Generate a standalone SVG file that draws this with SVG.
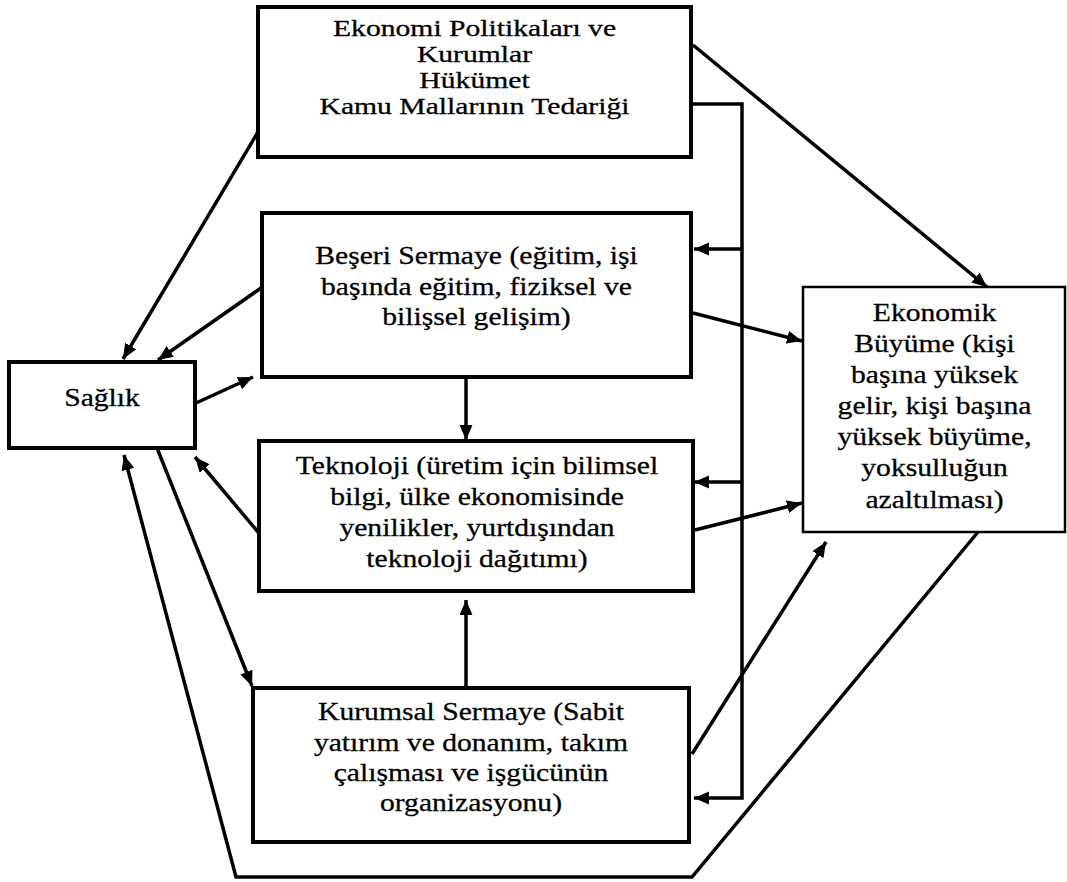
<svg xmlns="http://www.w3.org/2000/svg" width="1067" height="882" viewBox="0 0 1067 882">
<style>
.box{fill:#fff;stroke:#000;stroke-width:4}
.thin{stroke-width:2.5}
.t{font-family:"Liberation Serif","Times New Roman",serif;font-size:26px;fill:#000;stroke:#000;stroke-width:0.3;text-anchor:middle}
.s{font-size:24px}
.c{fill:none;stroke:#000;stroke-width:3.5}
</style>
<defs>
<marker id="ah" markerUnits="userSpaceOnUse" markerWidth="16" markerHeight="14" refX="15" refY="6.5" orient="auto">
<path d="M0,0 L15,6.5 L0,13 z" fill="#000"/>
</marker>
</defs>
<rect width="1067" height="882" fill="#fff"/>
<g id="connectors">
<line class="c" x1="258" y1="132" x2="123" y2="359" marker-end="url(#ah)"/>
<line class="c" x1="261" y1="288" x2="158" y2="360" marker-end="url(#ah)"/>
<line class="c" x1="196" y1="403" x2="253" y2="377" marker-end="url(#ah)"/>
<line class="c" x1="258" y1="532" x2="195" y2="457" marker-end="url(#ah)"/>
<line class="c" x1="157" y1="448" x2="252" y2="686" marker-end="url(#ah)"/>
<polyline class="c" points="978,532 692,877 236,877 124,455" marker-end="url(#ah)"/>
<line class="c" x1="693" y1="45" x2="987" y2="287" marker-end="url(#ah)"/>
<line class="c" x1="693" y1="313" x2="802" y2="341" marker-end="url(#ah)"/>
<line class="c" x1="695" y1="530" x2="802" y2="503" marker-end="url(#ah)"/>
<line class="c" x1="692" y1="754" x2="826" y2="542" marker-end="url(#ah)"/>
<line class="c" x1="466" y1="377" x2="466" y2="440" marker-end="url(#ah)"/>
<line class="c" x1="466" y1="688" x2="466" y2="600" marker-end="url(#ah)"/>
<polyline class="c" points="691,104 742,104 742,798 694,798" marker-end="url(#ah)"/>
<line class="c" x1="742" y1="249" x2="694" y2="249" marker-end="url(#ah)"/>
<line class="c" x1="742" y1="482" x2="694" y2="482" marker-end="url(#ah)"/>
</g>
<g id="politikalar">
<rect class="box" x="258" y="7" width="433" height="150"/>
<g transform="translate(474.5,0) scale(1.235,1)">
<text class="t s" x="0" y="36">Ekonomi Politikaları ve</text>
<text class="t s" x="0" y="62">Kurumlar</text>
<text class="t s" x="0" y="88">Hükümet</text>
<text class="t s" x="0" y="114">Kamu Mallarının Tedariği</text>
</g>
</g>
<g id="beseri">
<rect class="box" x="262" y="213" width="429" height="164"/>
<g transform="translate(476.5,0) scale(1.14,1)">
<text class="t" x="0" y="264">Beşeri Sermaye (eğitim, işi</text>
<text class="t" x="0" y="295">başında eğitim, fiziksel ve</text>
<text class="t" x="0" y="325">bilişsel gelişim)</text>
</g>
</g>
<g id="teknoloji">
<rect class="box" x="259" y="441" width="434" height="150"/>
<g transform="translate(477,0) scale(1.14,1)">
<text class="t" x="0" y="474">Teknoloji (üretim için bilimsel</text>
<text class="t" x="0" y="505">bilgi, ülke ekonomisinde</text>
<text class="t" x="0" y="536">yenilikler, yurtdışından</text>
<text class="t" x="0" y="567">teknoloji dağıtımı)</text>
</g>
</g>
<g id="kurumsal">
<rect class="box" x="253" y="688" width="436" height="154"/>
<g transform="translate(471,0) scale(1.14,1)">
<text class="t" x="0" y="720">Kurumsal Sermaye (Sabit</text>
<text class="t" x="0" y="751">yatırım ve donanım, takım</text>
<text class="t" x="0" y="781">çalışması ve işgücünün</text>
<text class="t" x="0" y="811">organizasyonu)</text>
</g>
</g>
<g id="saglik">
<rect class="box" x="9" y="362" width="186" height="86"/>
<g transform="translate(102,0) scale(1.14,1)">
<text class="t" x="0" y="406">Sağlık</text>
</g>
</g>
<g id="ekonomik">
<rect class="box thin" x="803" y="287" width="262" height="245"/>
<g transform="translate(934.5,0) scale(1.14,1)">
<text class="t" x="0" y="321">Ekonomik</text>
<text class="t" x="0" y="352">Büyüme (kişi</text>
<text class="t" x="0" y="383">başına yüksek</text>
<text class="t" x="0" y="414">gelir, kişi başına</text>
<text class="t" x="0" y="445">yüksek büyüme,</text>
<text class="t" x="0" y="476">yoksulluğun</text>
<text class="t" x="0" y="508">azaltılması)</text>
</g>
</g>
</svg>
